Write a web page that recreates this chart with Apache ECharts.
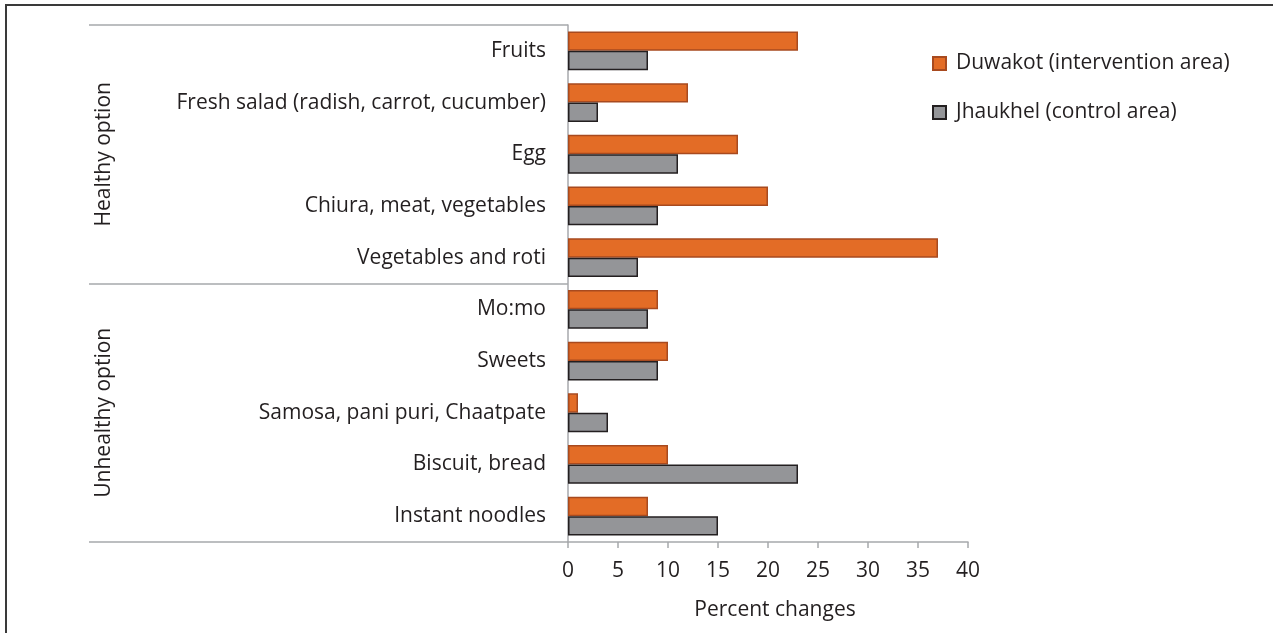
<!DOCTYPE html>
<html>
<head>
<meta charset="utf-8">
<script src="https://cdn.jsdelivr.net/npm/echarts@6/dist/echarts.min.js"></script>
<style>
  html, body { margin: 0; padding: 0; background: #fff; }
  #frame {
    position: absolute; left: 5px; top: 4px; width: 1400px; height: 800px;
    border-top: 2px solid #3a3a3a; border-left: 2px solid #3a3a3a;
  }
  #main { position: absolute; left: 0; top: 0; width: 1273px; height: 633px; }
</style>
</head>
<body>
<div id="frame"></div>
<div id="main"></div>
<script>
// food items, top to bottom
var categories = [
  "Fruits",
  "Fresh salad (radish, carrot, cucumber)",
  "Egg",
  "Chiura, meat, vegetables",
  "Vegetables and roti",
  "Mo:mo",
  "Sweets",
  "Samosa, pani puri, Chaatpate",
  "Biscuit, bread",
  "Instant noodles"
];
var groups = ["Healthy option", "Unhealthy option"];
var duwakot = [23, 12, 17, 20, 37, 9, 10, 1, 10, 8];
var jhaukhel = [8, 3, 11, 9, 7, 8, 9, 4, 23, 15];
var xTicks = [0, 40, 5]; // min, max, step

var font = "Open Sans";
var fs = 21;
var textColor = "#231f20";
var lineColor = "#a7a9ac";

var myChart = echarts.init(document.getElementById("main"));
myChart.setOption({
  animation: false,
  textStyle: { fontFamily: font },
  grid: { left: 568, right: 305, top: 25, bottom: 91 },
  legend: {
    orient: "vertical",
    left: 927,
    top: 48,
    itemWidth: 13,
    itemHeight: 13,
    itemGap: 28,
    icon: "rect",
    textStyle: { fontFamily: font, fontSize: fs, color: textColor, padding: [0, 0, 0, 5] },
    data: ["Duwakot (intervention area)", "Jhaukhel (control area)"]
  },
  xAxis: {
    type: "value",
    min: xTicks[0],
    max: xTicks[1],
    interval: xTicks[2],
    splitLine: { show: false },
    axisLine: { show: true, lineStyle: { color: lineColor, width: 1.5 } },
    axisTick: { show: true, length: 6, lineStyle: { color: lineColor, width: 1.5 } },
    axisLabel: { fontSize: fs, color: textColor, margin: 19 },
    name: "Percent changes",
    nameLocation: "middle",
    nameGap: 58,
    nameTextStyle: { fontSize: fs, color: textColor, padding: [0, 0, 0, 14] }
  },
  yAxis: [
    {
      type: "category",
      data: categories,
      inverse: true,
      axisLine: { show: true, lineStyle: { color: lineColor, width: 1.5 } },
      axisTick: { show: false },
      axisLabel: { fontSize: fs, color: textColor, margin: 22, padding: [5, 0, 0, 0] }
    },
    {
      // group labels + separator lines
      type: "category",
      data: groups,
      inverse: true,
      position: "left",
      axisLine: { show: false },
      axisTick: { show: true, length: 479, lineStyle: { color: lineColor, width: 1.5 } },
      axisLabel: { rotate: 90, fontSize: fs, color: textColor, margin: 453 }
    }
  ],
  series: [
    {
      name: "Duwakot (intervention area)",
      type: "bar",
      data: duwakot,
      barGap: "0%",
      barCategoryGap: "25%",
      itemStyle: { color: "#e36c26", borderColor: "#a84a1f", borderWidth: 1.5 }
    },
    {
      name: "Jhaukhel (control area)",
      type: "bar",
      data: jhaukhel,
      barGap: "0%",
      barCategoryGap: "25%",
      itemStyle: { color: "#949598", borderColor: "#231f20", borderWidth: 1.5 }
    }
  ]
});
</script>
</body>
</html>
